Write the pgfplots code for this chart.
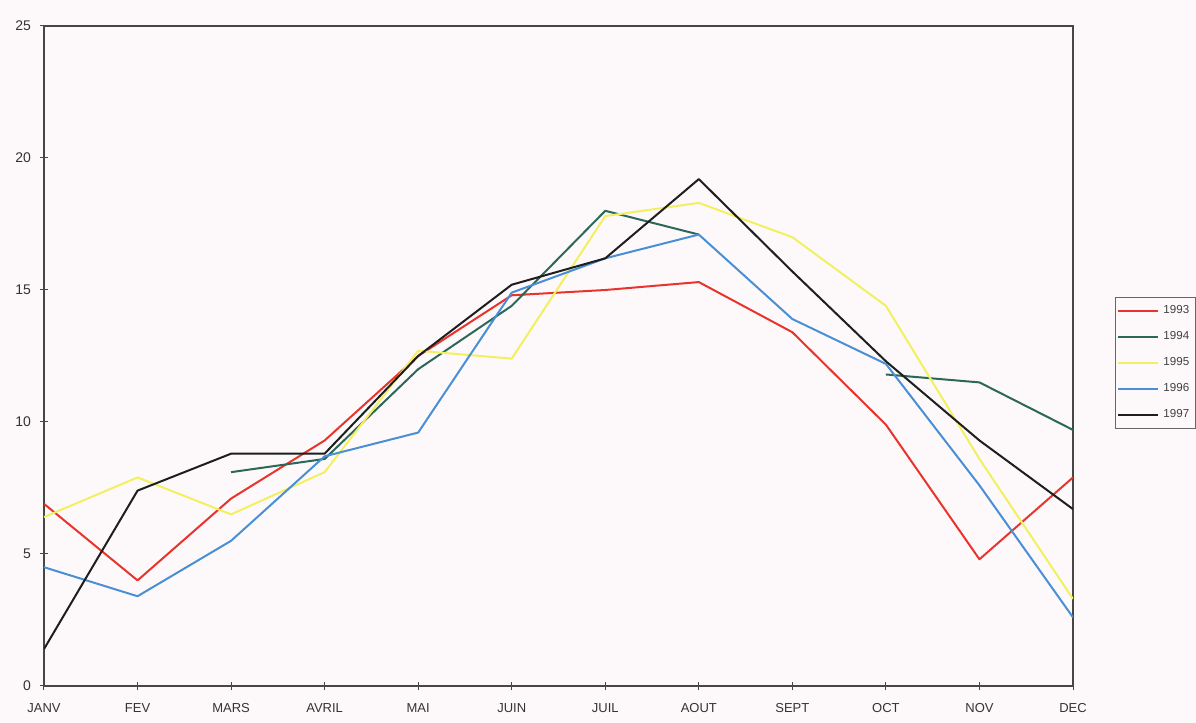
\documentclass[border=0pt]{standalone}
\usepackage{pgfplots}
\pgfplotsset{compat=1.18}
\usepackage{fontspec}
\setmainfont{Liberation Sans}

\definecolor{paper}{RGB}{253,249,250}
\definecolor{c93}{RGB}{232,52,44}
\definecolor{c94}{RGB}{44,104,88}
\definecolor{c95}{RGB}{242,240,96}
\definecolor{c96}{RGB}{74,142,214}
\definecolor{c97}{RGB}{30,30,30}
\definecolor{frame}{RGB}{70,70,70}

\begin{document}
\begin{tikzpicture}
\fill[paper] (0,0) rectangle (598pt,361.5pt);
\begin{axis}[
  at={(22pt,18.5pt)}, anchor=south west,
  scale only axis,
  width=514.5pt, height=330pt,
  xmin=0, xmax=11, ymin=0, ymax=25,
  xtick={0,...,11},
  xticklabels={JANV,FEV,MARS,AVRIL,MAI,JUIN,JUIL,AOUT,SEPT,OCT,NOV,DEC},
  ytick={0,5,10,15,20,25},
  tick align=center,
  major tick length=4pt,
  tick style={frame, line width=0.5pt},
  axis line style={frame, line width=0.7pt},
  x axis line style={line width=0.8pt},
  xtick pos=bottom, ytick pos=left,
  /pgf/number format/assume math mode=true,
  ticklabel style={font=\fontsize{7}{8}\selectfont, text=black!80},
  xticklabel style={font=\fontsize{6.5}{8}\selectfont, yshift=-3pt},
  yticklabel style={xshift=-1pt},
  unbounded coords=jump,
  every axis plot/.append style={line width=1pt, line join=round},
  legend style={
    at={(axis description cs:1.0408,0.589)}, anchor=north west,
    draw=black!60, line width=0.5pt, fill=paper,
    font=\fontsize{5.8}{6}\selectfont, text=black!75,
    inner xsep=1pt, inner ysep=2pt,
    row sep=3.4pt,
    cells={anchor=west},
    /tikz/every odd column/.append style={xshift=0pt},
  },
  legend image code/.code={\draw[#1] (0pt,0pt) -- (20pt,0pt);},
]
% monthly means per year
\addplot[c93] coordinates {
  (0,6.9) (1,4.0) (2,7.1) (3,9.3) (4,12.5) (5,14.8)
  (6,15.0) (7,15.3) (8,13.4) (9,9.9) (10,4.8) (11,7.9)};
\addlegendentry{1993}
\addplot[c94] coordinates {
  (2,8.1) (3,8.6) (4,12.0) (5,14.4) (6,18.0) (7,17.1)
  (8,nan) (9,11.8) (10,11.5) (11,9.7)};
\addlegendentry{1994}
\addplot[c95] coordinates {
  (0,6.4) (1,7.9) (2,6.5) (3,8.1) (4,12.7) (5,12.4)
  (6,17.8) (7,18.3) (8,17.0) (9,14.4) (10,8.6) (11,3.3)};
\addlegendentry{1995}
\addplot[c96] coordinates {
  (0,4.5) (1,3.4) (2,5.5) (3,8.7) (4,9.6) (5,14.9)
  (6,16.2) (7,17.1) (8,13.9) (9,12.2) (10,7.6) (11,2.6)};
\addlegendentry{1996}
\addplot[c97] coordinates {
  (0,1.4) (1,7.4) (2,8.8) (3,8.8) (4,12.5) (5,15.2)
  (6,16.2) (7,19.2) (8,15.7) (9,12.3) (10,9.3) (11,6.7)};
\addlegendentry{1997}
\end{axis}
\pgfresetboundingbox
\path (0,0) rectangle (598pt,361.5pt);
\end{tikzpicture}
\end{document}
